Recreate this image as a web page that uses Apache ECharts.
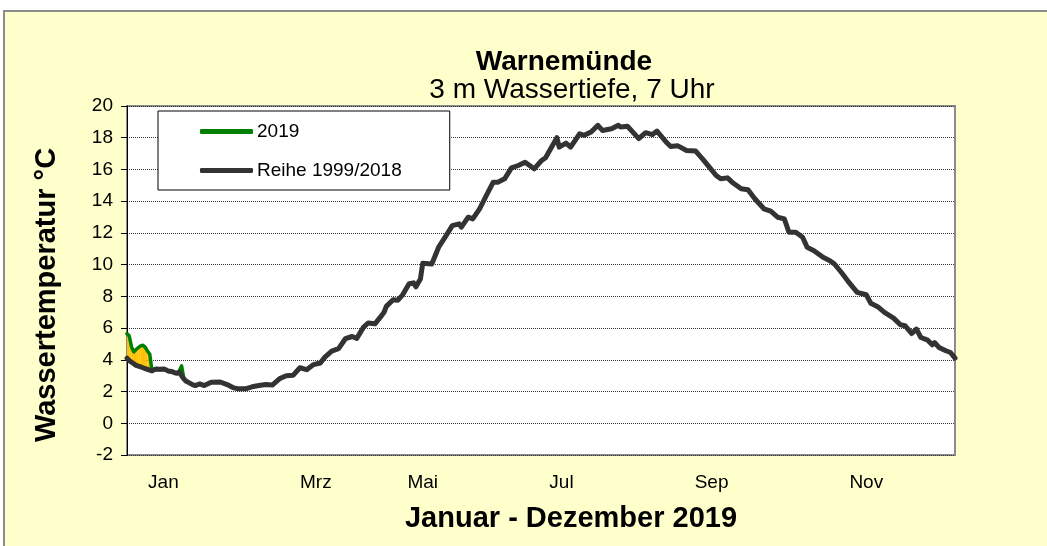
<!DOCTYPE html>
<html>
<head>
<meta charset="utf-8">
<title>Warnemünde Wassertemperatur</title>
<script src="https://cdn.jsdelivr.net/npm/echarts@6/dist/echarts.min.js"></script>
<style>
  html, body { margin: 0; padding: 0; background: #fff; overflow: hidden; }
  .panel {
    position: absolute; left: 3px; top: 10px; width: 1100px; height: 600px;
    background: #ffffcc; border: 2px solid #8c8c8c;
  }
  .chart-container { position: absolute; left: 0; top: 0; width: 1047px; height: 546px; }
</style>
</head>
<body>
<div class="panel"></div>
<div id="chart" class="chart-container"></div>
<script>
// long-term mean 1999/2018 (day of year, °C)
const refDays = [
  1, 2, 3, 4, 5, 6, 7, 8, 9, 10, 11, 12, 13, 14, 15, 16, 17, 18, 19, 20, 21, 22, 23, 24, 25, 26, 27, 28, 29, 30, 31,
  33, 35, 38, 42, 45, 48, 50, 53, 56, 59, 62, 65, 68, 71, 74, 77, 80, 83, 86, 88, 91, 94, 97, 100, 102, 105, 107,
  110, 113, 114, 115, 118, 120, 122, 125, 127, 128, 130, 131, 135, 138, 141, 144, 147, 148, 151, 153, 156, 159,
  162, 164, 167, 170, 173, 176, 180, 183, 185, 190, 191, 194, 196, 200, 202, 205, 208, 210, 214, 217, 218, 221,
  226, 229, 232, 234, 238, 240, 243, 247, 251, 254, 257, 260, 262, 265, 267, 271, 274, 277, 281, 284, 287, 290,
  292, 295, 298, 300, 303, 307, 310, 312, 315, 318, 322, 326, 328, 331, 334, 338, 341, 343, 346, 348, 350, 353,
  355, 356, 358, 361, 363, 365,
]
const refTemps = [
  4.1, 3.95, 3.85, 3.75, 3.65, 3.6, 3.55, 3.5, 3.45, 3.4, 3.35, 3.3, 3.38, 3.42, 3.4, 3.4, 3.42, 3.38, 3.3, 3.28,
  3.25, 3.18, 3.16, 3.22, 3.0, 2.8, 2.65, 2.58, 2.5, 2.42, 2.38,
  2.48, 2.38, 2.58, 2.6, 2.44, 2.23, 2.17, 2.17, 2.3, 2.38, 2.44, 2.42, 2.8, 3.0, 3.02, 3.5, 3.38, 3.7, 3.8, 4.17,
  4.55, 4.7, 5.33, 5.47, 5.35, 6.06, 6.32, 6.27, 6.8, 7.0, 7.37, 7.79, 7.75, 8.06, 8.8, 8.85, 8.6, 9.1, 10.08,
  10.04, 11.1, 11.77, 12.46, 12.57, 12.36, 12.99, 12.88, 13.52, 14.36, 15.2, 15.2, 15.41, 16.1, 16.25, 16.46,
  16.04, 16.53, 16.74, 18.0, 17.41, 17.66, 17.41, 18.25, 18.15, 18.36, 18.78, 18.46, 18.57, 18.78, 18.68, 18.72,
  17.94, 18.32, 18.2, 18.42, 17.73, 17.45, 17.5, 17.2, 17.16, 16.67, 16.15, 15.62, 15.41, 15.47, 15.2, 14.78,
  14.72, 14.15, 13.52, 13.37, 12.99, 12.88, 12.04, 12.04, 11.73, 11.09, 10.88, 10.46, 10.25, 10.04, 9.52, 8.95,
  8.25, 8.1, 7.56, 7.35, 6.99, 6.63, 6.21, 6.15, 5.66, 5.94, 5.41, 5.24, 4.95, 5.09, 4.78, 4.57, 4.46, 4.11,
]

// 2019 measurements (day of year, °C)
const obsDays = [1, 2, 3, 4, 5, 6, 7, 8, 9, 10, 11, 12, 13, 14, 15, 16, 17, 18, 19, 20, 21, 22, 23, 24, 25, 26]
const obsTemps = [
  5.65, 5.5, 4.8, 4.5, 4.65, 4.78, 4.88, 4.92, 4.8, 4.55, 4.35, 3.3, 3.35, 3.4, 3.38, 3.38, 3.4, 3.35, 3.28, 3.25,
  3.22, 3.15, 3.12, 3.3, 3.62, 2.8,
]

const monthTickDays = [17, 84, 131, 192, 258, 326]
const monthLabels = ['Jan', 'Mrz', 'Mai', 'Jul', 'Sep', 'Nov']

const font = "'Liberation Sans', Arial, sans-serif"

const refAt = (day) => refTemps[refDays.indexOf(day)]

// one segment per day step: [day, 2019, mean, nextDay, next2019, nextMean]
const fillSegments = obsDays.slice(0, -1).map((d, i) => [
  d, obsTemps[i], refAt(d), obsDays[i + 1], obsTemps[i + 1], refAt(obsDays[i + 1]),
])

const chart = echarts.init(document.getElementById('chart'))

chart.setOption({
  animation: false,
  textStyle: { fontFamily: font },

  graphic: [
    {
      type: 'text', x: 564, y: 62,
      style: { text: 'Warnemünde', font: `bold 28px ${font}`, fill: '#000', align: 'center', verticalAlign: 'middle' },
    },
    {
      type: 'text', x: 572, y: 90,
      style: { text: '3 m Wassertiefe, 7 Uhr', font: `28px ${font}`, fill: '#000', align: 'center', verticalAlign: 'middle' },
    },
    {
      type: 'text', x: 571, y: 519,
      style: { text: 'Januar - Dezember 2019', font: `bold 29px ${font}`, fill: '#000', align: 'center', verticalAlign: 'middle' },
    },
    {
      type: 'text', x: 47, y: 295, rotation: Math.PI / 2,
      style: { text: 'Wassertemperatur °C', font: `bold 29px ${font}`, fill: '#000', align: 'center', verticalAlign: 'middle' },
    },
  ],

  legend: {
    data: ['2019', 'Reihe 1999/2018'],
    orient: 'vertical',
    left: 158,
    top: 111,
    padding: [11, 48, 10, 42],
    itemGap: 20,
    itemWidth: 53,
    itemHeight: 5,
    icon: 'roundRect',
    backgroundColor: '#fff',
    borderColor: '#000',
    borderWidth: 1,
    borderRadius: 0,
    textStyle: { fontSize: 19, color: '#000', padding: [0, 0, 0, -1] },
  },

  grid: {
    left: 127,
    right: 92,
    top: 106,
    bottom: 91,
    show: true,
    backgroundColor: '#fff',
    borderColor: '#8c8c8c',
    borderWidth: 2,
  },

  xAxis: {
    type: 'value',
    min: 1,
    max: 365,
    axisLine: { show: false },
    axisTick: { show: false },
    splitLine: { show: false },
    axisLabel: {
      customValues: monthTickDays,
      formatter: (v) => monthLabels[monthTickDays.indexOf(v)],
      fontSize: 19,
      color: '#000',
      margin: 18,
    },
  },

  yAxis: {
    type: 'value',
    min: -2,
    max: 20,
    interval: 2,
    axisLine: { show: true, lineStyle: { color: '#000', width: 1 } },
    axisTick: { show: true, length: 6, lineStyle: { color: '#000' } },
    axisLabel: { fontSize: 19, color: '#000', margin: 14 },
    splitLine: { lineStyle: { color: '#333', type: 'dotted', width: 1 } },
  },

  series: [
    {
      name: 'fillAbove',
      type: 'custom',
      data: fillSegments,
      encode: { x: [0, 3], y: [1, 2, 4, 5] },
      silent: true,
      z: 1,
      renderItem(params, api) {
        const d0 = api.value(0)
        const d1 = api.value(3)
        const r0 = api.value(2)
        const r1 = api.value(5)
        const top0 = Math.max(api.value(1), r0)
        const top1 = Math.max(api.value(4), r1)
        return {
          type: 'polygon',
          shape: {
            points: [api.coord([d0, top0]), api.coord([d1, top1]), api.coord([d1, r1]), api.coord([d0, r0])],
          },
          style: { fill: '#ffc000' },
        }
      },
    },
    {
      name: '2019',
      type: 'line',
      data: obsDays.map((d, i) => [d, obsTemps[i]]),
      symbol: 'none',
      color: '#008000',
      lineStyle: { color: '#008000', width: 3.5, cap: 'round', join: 'round' },
      z: 2,
    },
    {
      name: 'Reihe 1999/2018',
      type: 'line',
      data: refDays.map((d, i) => [d, refTemps[i]]),
      symbol: 'none',
      color: '#333333',
      lineStyle: { color: '#333333', width: 5, cap: 'round', join: 'round' },
      z: 3,
    },
  ],
})
</script>
</body>
</html>
